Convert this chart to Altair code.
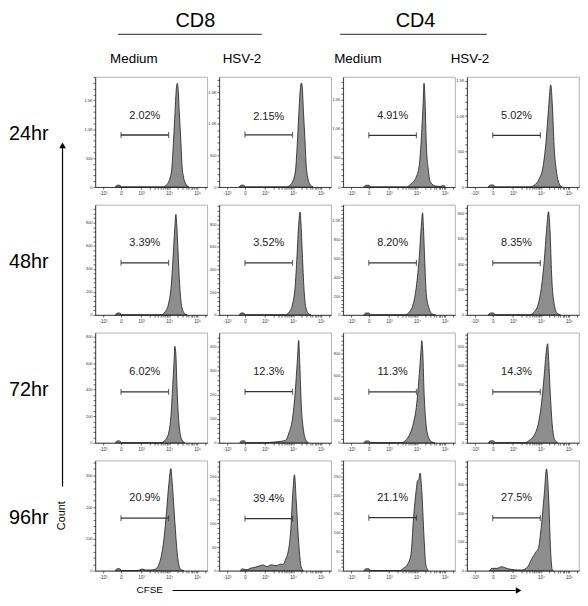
import math
import altair as alt
import pandas as pd

FONT = "Liberation Sans"

# ---------------- data ----------------
TIMES = ["24hr", "48hr", "72hr", "96hr"]
SUBSETS = ["CD8", "CD4"]
CONDITIONS = ["Medium", "HSV-2", "Medium", "HSV-2"]

XTICK_VALUES = [1.64, 2.28, 3.0, 4.0, 5.0]
XTICK_LABELS = ["-10³", "0", "10³", "10⁴", "10⁵"]
X_DOMAIN = [1.36, 5.36]
GATE_RANGE = [2.28, 3.98]

# 24hr
cfse_24_cd8_med = [2.08, 2.14, 2.24, 2.30, 3.76, 3.88, 4.00, 4.09, 4.15, 4.21, 4.26, 4.29, 4.32, 4.36, 4.41, 4.47, 4.59, 4.71]
count_24_cd8_med = [0, 30, 30, 0, 0, 28, 110, 305, 750, 1300, 1720, 1790, 1700, 1300, 860, 305, 55, 0]
cfse_24_cd8_hsv = [2.08, 2.14, 2.24, 2.30, 3.75, 3.88, 4.00, 4.09, 4.15, 4.21, 4.27, 4.30, 4.33, 4.37, 4.42, 4.48, 4.60, 4.72]
count_24_cd8_hsv = [0, 28, 28, 0, 0, 25, 100, 280, 680, 1200, 1600, 1645, 1560, 1200, 780, 280, 45, 0]
cfse_24_cd4_med = [2.10, 2.18, 2.28, 2.36, 3.62, 3.79, 3.97, 4.08, 4.16, 4.22, 4.25, 4.29, 4.33, 4.40, 4.48, 4.66, 4.83, 4.94, 5.02]
count_24_cd4_med = [0, 30, 30, 0, 0, 57, 170, 370, 880, 1450, 1786, 1450, 770, 310, 85, 17, 10, 28, 0]
cfse_24_cd4_hsv = [2.12, 2.20, 2.30, 2.38, 3.59, 3.76, 3.94, 4.06, 4.18, 4.27, 4.35, 4.41, 4.47, 4.56, 4.65, 4.76]
count_24_cd4_hsv = [0, 28, 28, 0, 0, 23, 116, 255, 627, 1090, 1440, 1140, 580, 209, 46, 0]

# 48hr
cfse_48_cd8_med = [2.08, 2.14, 2.24, 2.30, 3.71, 3.86, 3.98, 4.07, 4.14, 4.20, 4.24, 4.27, 4.32, 4.38, 4.45, 4.56, 4.64]
count_48_cd8_med = [0, 16, 16, 0, 0, 29, 100, 243, 500, 757, 872, 786, 529, 243, 71, 9, 0]
cfse_48_cd8_hsv = [2.08, 2.14, 2.24, 2.30, 3.72, 3.86, 3.98, 4.07, 4.14, 4.20, 4.25, 4.28, 4.33, 4.39, 4.46, 4.56, 4.64]
count_48_cd8_hsv = [0, 16, 16, 0, 0, 25, 95, 240, 520, 800, 908, 820, 540, 230, 60, 8, 0]
cfse_48_cd4_med = [2.10, 2.18, 2.28, 2.36, 3.56, 3.74, 3.87, 3.99, 4.08, 4.15, 4.20, 4.23, 4.28, 4.33, 4.43, 4.54, 4.66]
count_48_cd4_med = [0, 20, 20, 0, 0, 35, 123, 333, 614, 930, 1087, 930, 544, 228, 70, 10, 0]
cfse_48_cd4_hsv = [2.12, 2.20, 2.30, 2.38, 3.59, 3.77, 3.91, 4.02, 4.12, 4.20, 4.27, 4.33, 4.38, 4.47, 4.58, 4.70]
count_48_cd4_hsv = [0, 15, 15, 0, 0, 26, 91, 221, 429, 663, 812, 637, 325, 91, 13, 0]

# 72hr
cfse_72_cd8_med = [2.08, 2.14, 2.24, 2.30, 3.71, 3.86, 3.98, 4.06, 4.13, 4.18, 4.20, 4.24, 4.28, 4.35, 4.45, 4.56]
count_72_cd8_med = [0, 14, 14, 0, 0, 20, 73, 195, 439, 634, 727, 659, 415, 146, 24, 0]
cfse_72_cd8_hsv = [2.10, 2.16, 2.26, 2.32, 2.99, 3.22, 3.56, 3.74, 3.85, 3.97, 4.08, 4.15, 4.20, 4.24, 4.29, 4.37, 4.46, 4.55]
count_72_cd8_hsv = [0, 8, 8, 0, 0, 2, 6, 11, 41, 95, 217, 339, 427, 325, 163, 54, 11, 0]
cfse_72_cd4_med = [2.10, 2.18, 2.28, 2.36, 3.45, 3.62, 3.76, 3.87, 3.99, 4.08, 4.14, 4.17, 4.21, 4.25, 4.31, 4.40, 4.52, 4.63]
count_72_cd4_med = [0, 16, 16, 0, 0, 29, 87, 175, 349, 611, 815, 917, 786, 466, 204, 58, 9, 0]
cfse_72_cd4_hsv = [2.12, 2.20, 2.30, 2.38, 3.42, 3.59, 3.77, 3.91, 4.02, 4.12, 4.19, 4.24, 4.28, 4.33, 4.40, 4.49, 4.60]
count_72_cd4_hsv = [0, 10, 10, 0, 0, 13, 42, 101, 202, 354, 472, 514, 421, 269, 101, 17, 0]

# 96hr
cfse_96_cd8_med = [2.08, 2.14, 2.24, 2.30, 2.85, 2.93, 3.05, 3.16, 3.35, 3.51, 3.68, 3.82, 3.91, 3.99, 4.06, 4.11, 4.20, 4.29, 4.40, 4.52]
count_96_cd8_med = [0, 6, 6, 0, 0, 2, 5, 2, 2, 5, 32, 105, 190, 274, 321, 274, 158, 53, 5, 0]
cfse_96_cd8_hsv = [2.12, 2.18, 2.24, 2.36, 2.47, 2.64, 2.82, 2.93, 3.07, 3.22, 3.39, 3.56, 3.64, 3.74, 3.83, 3.91, 3.99, 4.05, 4.11, 4.20, 4.29, 4.37]
count_96_cd8_hsv = [0, 4, 3, 2, 5, 7, 10.5, 12, 8.5, 12.5, 10.5, 14, 13, 25, 42, 80, 165, 203, 150, 60, 8, 0]
cfse_96_cd4_med = [2.10, 2.18, 2.28, 2.36, 3.37, 3.51, 3.68, 3.79, 3.87, 3.97, 4.02, 4.06, 4.11, 4.17, 4.25, 4.31, 4.40]
count_96_cd4_med = [0, 5, 5, 0, 0, 6, 19, 46, 133, 212, 238, 240, 258, 212, 89, 19, 0]
cfse_96_cd4_hsv = [2.16, 2.26, 2.43, 2.60, 2.72, 2.90, 3.30, 3.53, 3.65, 3.83, 3.91, 4.00, 4.12, 4.20, 4.27, 4.35, 4.41, 4.45]
count_96_cd4_hsv = [0, 8, 8, 14, 10, 5, 2, 14, 37, 66, 77, 140, 267, 353, 267, 60, 2, 0]

PERCENTS = [
    ["2.02%", "2.15%", "4.91%", "5.02%"],
    ["3.39%", "3.52%", "8.20%", "8.35%"],
    ["6.02%", "12.3%", "11.3%", "14.3%"],
    ["20.9%", "39.4%", "21.1%", "27.5%"],
]
GATE_COUNT = [
    [898, 825, 889, 728],
    [452, 459, 554, 409],
    [383, 213, 457, 264],
    [165, 110, 140, 183],
]
LABEL_COUNT = [
    [1222, 1109, 1218, 997],
    [623, 634, 764, 565],
    [530, 294, 631, 365],
    [228, 152, 192, 251],
]
Y_MAX = [
    [1900, 1740, 1893, 1550],
    [955, 972, 1172, 866],
    [828, 459, 987, 571],
    [346, 233, 291, 382],
]
Y_TICK_STEP = [
    [500, 500, 500, 500],
    [200, 200, 200, 200],
    [200, 100, 200, 100],
    [100, 50, 50, 100],
]

HISTS = [
    [(cfse_24_cd8_med, count_24_cd8_med), (cfse_24_cd8_hsv, count_24_cd8_hsv),
     (cfse_24_cd4_med, count_24_cd4_med), (cfse_24_cd4_hsv, count_24_cd4_hsv)],
    [(cfse_48_cd8_med, count_48_cd8_med), (cfse_48_cd8_hsv, count_48_cd8_hsv),
     (cfse_48_cd4_med, count_48_cd4_med), (cfse_48_cd4_hsv, count_48_cd4_hsv)],
    [(cfse_72_cd8_med, count_72_cd8_med), (cfse_72_cd8_hsv, count_72_cd8_hsv),
     (cfse_72_cd4_med, count_72_cd4_med), (cfse_72_cd4_hsv, count_72_cd4_hsv)],
    [(cfse_96_cd8_med, count_96_cd8_med), (cfse_96_cd8_hsv, count_96_cd8_hsv),
     (cfse_96_cd4_med, count_96_cd4_med), (cfse_96_cd4_hsv, count_96_cd4_hsv)],
]

# ---------------- layout / style ----------------
PANEL_W, PANEL_H = 113, 111
COL_GAP, ROW_GAP = 12, 18
LEFT_W = 75
ROW_STEP = PANEL_H + ROW_GAP

GROUP_X = [188, 410]
GROUP_BASELINE = -50
GROUP_LINES = [(110, 255), (334, 482)]
GROUP_LINE_Y = -43
COND_X = [126, 235, 352, 465]
COND_BASELINE = -14
ROW_LABEL_X, ROW_LABEL_Y = 20, 58
ARROW_X = 54
ARROW_TOP, ARROW_BOTTOM = 66, 3 * ROW_STEP + 26
CFSE_X, CFSE_Y = 142, PANEL_H + 20
HARROW = (165, 514)

FILL = "#8d8d8d"
INK = "#1c1c1c"

# axis tick sets: labelled decades plus unlabelled minor ticks inside the decades
X_MINOR = [d + math.log10(k) for d in (3, 4) for k in range(2, 10)] + [5 + math.log10(2)]
X_ALL_TICKS = sorted(XTICK_VALUES + X_MINOR)
XLABEL_EXPR = "".join(
    f"abs(datum.value - {v}) < 0.001 ? '{lab}' : " for v, lab in zip(XTICK_VALUES, XTICK_LABELS)
) + "''"


def ylabel_expr(step):
    return (f"abs(datum.value % {step}) > 0.001 ? '' : "
            "datum.value >= 1000 ? format(datum.value / 1000, '.1f') + 'K' : format(datum.value, 'd')")


def panel(r, c):
    xs, ns = HISTS[r][c]
    hist = pd.DataFrame({"cfse": xs, "count": ns})
    step = Y_TICK_STEP[r][c]
    minor = step / 5
    ytick_vals = [round(i * minor, 6) for i in range(int(Y_MAX[r][c] // minor) + 1)]
    xscale = alt.Scale(domain=X_DOMAIN, nice=False, zero=False)
    yscale = alt.Scale(domain=[0, Y_MAX[r][c]], nice=False, zero=True)
    xaxis = alt.Axis(values=X_ALL_TICKS, labelExpr=XLABEL_EXPR, title=None, grid=False,
                     labelFontSize=4.5, tickSize=2.2, labelPadding=1.5, labelOverlap=False,
                     labelFlush=False, labelColor="#333")
    yaxis = alt.Axis(values=ytick_vals, labelExpr=ylabel_expr(step), title=None, grid=False,
                     labelFontSize=4, tickSize=2.2, labelPadding=1, labelOverlap=False,
                     labelFlush=False, labelColor="#333")
    area = alt.Chart(hist).mark_area(
        interpolate="monotone", fill=FILL, stroke=INK, strokeWidth=0.8
    ).encode(
        x=alt.X("cfse:Q", scale=xscale, axis=xaxis),
        y=alt.Y("count:Q", scale=yscale, axis=yaxis),
    )
    gate = pd.DataFrame({
        "lo": [GATE_RANGE[0]], "hi": [GATE_RANGE[1]], "gy": [GATE_COUNT[r][c]],
        "mid": [(GATE_RANGE[0] + GATE_RANGE[1]) / 2], "ly": [LABEL_COUNT[r][c]],
        "pct": [PERCENTS[r][c]],
    })
    rule = alt.Chart(gate).mark_rule(color="#333", strokeWidth=1.3).encode(
        x=alt.X("lo:Q", scale=xscale, axis=xaxis),
        x2="hi:Q",
        y=alt.Y("gy:Q", scale=yscale, axis=yaxis),
    )
    caps_df = pd.DataFrame({"cx": GATE_RANGE, "cy": [GATE_COUNT[r][c]] * 2})
    caps = alt.Chart(caps_df).mark_tick(orient="vertical", size=6, thickness=1.2, color="#333").encode(
        x=alt.X("cx:Q", scale=xscale, axis=xaxis),
        y=alt.Y("cy:Q", scale=yscale, axis=yaxis),
    )
    text = alt.Chart(gate).mark_text(fontSize=11, font=FONT, color="#222").encode(
        x=alt.X("mid:Q", scale=xscale, axis=xaxis),
        y=alt.Y("ly:Q", scale=yscale, axis=yaxis),
        text="pct:N",
    )
    return alt.layer(area, rule, caps, text).properties(width=PANEL_W, height=PANEL_H)


def one(**kw):
    return alt.Chart(pd.DataFrame(kw))


def left_cell(r):
    layers = [
        one(label=[TIMES[r]]).mark_text(fontSize=20, font=FONT, color="black", baseline="middle").encode(
            text="label:N", x=alt.value(ROW_LABEL_X), y=alt.value(ROW_LABEL_Y))
    ]
    if r == 0:
        for i, g in enumerate(SUBSETS):
            layers.append(one(g=[g]).mark_text(fontSize=20, font=FONT, color="black", baseline="alphabetic").encode(
                text="g:N", x=alt.value(GROUP_X[i]), y=alt.value(GROUP_BASELINE)))
            layers.append(one(g=[g]).mark_rule(color="#555", strokeWidth=1.2).encode(
                x=alt.value(GROUP_LINES[i][0]), x2=alt.value(GROUP_LINES[i][1]), y=alt.value(GROUP_LINE_Y)))
        for j, cond in enumerate(CONDITIONS):
            layers.append(one(c=[cond]).mark_text(fontSize=13.5, font=FONT, color="black", baseline="alphabetic").encode(
                text="c:N", x=alt.value(COND_X[j]), y=alt.value(COND_BASELINE)))
        layers.append(one(a=[1]).mark_rule(color="black", strokeWidth=1.2).encode(
            x=alt.value(ARROW_X), y=alt.value(ARROW_TOP + 4), y2=alt.value(ARROW_BOTTOM)))
        layers.append(one(a=[1]).mark_point(shape="triangle-up", filled=True, size=45, color="black", opacity=1).encode(
            x=alt.value(ARROW_X), y=alt.value(ARROW_TOP + 3)))
    if r == 3:
        layers.append(one(t=["Count"]).mark_text(fontSize=11, font=FONT, color="black", angle=270, baseline="middle").encode(
            text="t:N", x=alt.value(ARROW_X), y=alt.value(PANEL_H / 2)))
        layers.append(one(t=["CFSE"]).mark_text(fontSize=10, font=FONT, color="black", baseline="middle").encode(
            text="t:N", x=alt.value(CFSE_X), y=alt.value(CFSE_Y)))
        layers.append(one(a=[1]).mark_rule(color="black", strokeWidth=1.2).encode(
            x=alt.value(HARROW[0]), x2=alt.value(HARROW[1] - 3), y=alt.value(CFSE_Y)))
        layers.append(one(a=[1]).mark_point(shape="triangle-right", filled=True, size=40, color="black", opacity=1).encode(
            x=alt.value(HARROW[1]), y=alt.value(CFSE_Y)))
    return alt.layer(*layers).properties(
        width=LEFT_W, height=PANEL_H, view=alt.ViewBackground(stroke="transparent"))


cells = []
for r in range(4):
    cells.append(left_cell(r))
    for c in range(4):
        cells.append(panel(r, c))

chart = alt.concat(
    *cells, columns=5, spacing={"row": ROW_GAP, "column": COL_GAP}, bounds="flush"
).properties(padding=0).configure_view(
    stroke="#a0a0a0", strokeWidth=0.8
).configure_axis(
    labelFont=FONT, domainColor="#222", tickColor="#222", domainWidth=0.8, tickWidth=0.7
).configure_text(font=FONT)

chart.save("out.html", embed_options={"renderer": "svg", "actions": False})
